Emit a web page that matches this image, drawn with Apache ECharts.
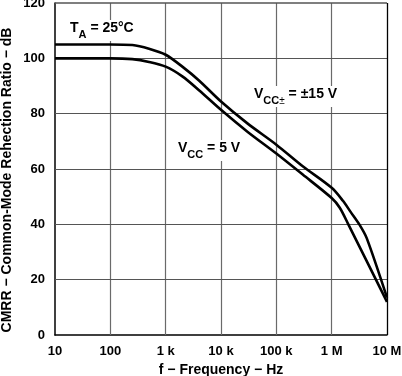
<!DOCTYPE html>
<html>
<head>
<meta charset="utf-8">
<script src="https://cdn.jsdelivr.net/npm/echarts@6/dist/echarts.min.js"></script>
<style>
  html, body { margin: 0; padding: 0; background: #fff; }
  #chart { width: 402px; height: 376px; }
</style>
</head>
<body>
<div id="chart"></div>
<script>
// 数据
var xTickLabels = ['10', '100', '1 k', '10 k', '100 k', '1 M', '10 M'];
var xGrid = [100, 1000, 10000, 100000, 1e6];
var yTicks = [0, 20, 40, 60, 80, 100, 120];

// VCC± = ±15 V
var freq15 = [10, 100, 250, 500, 1000, 2000, 4000, 10000, 30000, 100000, 300000, 1e6, 1.6e6, 2.2e6, 3.2e6, 4.3e6, 1e7];
var cmrr15 = [105, 105, 104.8, 103.5, 101.3, 97, 92, 84.4, 76.5, 68.8, 61, 53.2, 48.5, 44.5, 39.8, 35, 13.5];

// VCC = 5 V
var freq5 = [10, 100, 250, 500, 1000, 2000, 4000, 10000, 30000, 100000, 300000, 1e6, 1.4e6, 2e6, 1e7];
var cmrr5 = [100, 100, 99.7, 98.7, 97, 93.5, 88.5, 81.4, 73.5, 65.6, 58, 49.5, 46, 40, 12];

function pairs(xs, ys) {
  return xs.map(function (x, i) { return [x, ys[i]]; });
}

var FONT = '"Liberation Sans", Arial, sans-serif';

// 标注文字样式（下标）
function richStyle() {
  return {
    a: { fontFamily: FONT, fontWeight: 'bold', fontSize: 14, lineHeight: 19, verticalAlign: 'top', fill: '#000' },
    s: { fontFamily: FONT, fontWeight: 'bold', fontSize: 11, lineHeight: 11, verticalAlign: 'bottom', fill: '#000' },
    p: { fontFamily: FONT, fontWeight: 'normal', fontSize: 10, lineHeight: 10, verticalAlign: 'bottom', fill: '#000' }
  };
}

// 水平网格线 + 边框（主坐标系）
var hLines = [];
yTicks.slice(1, -1).forEach(function (v) {
  hLines.push({ yAxis: v, lineStyle: { color: '#555', width: 1, type: 'solid' } });
});
hLines.push({ yAxis: yTicks[yTicks.length - 1], lineStyle: { color: '#555', width: 1.5, type: 'solid' } });
hLines.push({ xAxis: 1e7, lineStyle: { color: '#000', width: 1.3, type: 'solid' } });

// 竖直网格线：放在隐藏的线性轴上（log10 空间）
var vLines = xGrid.map(function (f) {
  return { xAxis: Math.log10(f), lineStyle: { color: '#6a6a6a', width: 1.2, type: 'solid' } };
});

var myChart = echarts.init(document.getElementById('chart'));
var option = {
  animation: false,
  grid: {
    left: 55,
    right: 15,
    top: 3,
    bottom: 41,
    containLabel: false,
    outerBoundsMode: 'none',
    show: false
  },
  xAxis: [
    {
      type: 'log',
      logBase: 10,
      min: 10,
      max: 1e7,
      name: 'f \u2212 Frequency \u2212 Hz',
      nameLocation: 'middle',
      nameGap: 27,
      nameTextStyle: { fontFamily: FONT, fontWeight: 'bold', fontSize: 14, color: '#000' },
      axisLine: { show: true, onZero: false, lineStyle: { color: '#000', width: 1.5 } },
      axisTick: { show: false },
      axisLabel: {
        margin: 10,
        fontFamily: FONT, fontWeight: 'bold', fontSize: 13, color: '#000',
        formatter: function (v) {
          var i = Math.round(Math.log10(v)) - 1;
          return xTickLabels[i] || '';
        }
      },
      splitLine: { show: false }
    },
    {
      // 隐藏的线性轴，范围 = log10(10) ~ log10(1e7)
      type: 'value',
      show: false,
      min: 1,
      max: 7,
      interval: 1
    }
  ],
  yAxis: {
    type: 'value',
    min: yTicks[0],
    max: yTicks[yTicks.length - 1],
    interval: 20,
    axisLine: { show: true, onZero: false, lineStyle: { color: '#000', width: 1.5 } },
    axisTick: { show: false },
    axisLabel: {
      margin: 10,
      fontFamily: FONT, fontWeight: 'bold', fontSize: 13, color: '#000'
    },
    splitLine: { show: false }
  },
  series: [
    {
      name: 'grid',
      type: 'line',
      xAxisIndex: 1,
      data: [],
      silent: true,
      z: 1,
      markLine: {
        silent: true,
        symbol: 'none',
        label: { show: false },
        emphasis: { disabled: true },
        z: 1,
        data: vLines
      }
    },
    {
      name: 'VCC± = ±15 V',
      type: 'line',
      data: pairs(freq15, cmrr15),
      smooth: 0.3,
      showSymbol: false,
      lineStyle: { color: '#000', width: 2.6 },
      z: 5,
      markLine: {
        silent: true,
        symbol: 'none',
        label: { show: false },
        emphasis: { disabled: true },
        z: 1,
        data: hLines
      }
    },
    {
      name: 'VCC = 5 V',
      type: 'line',
      data: pairs(freq5, cmrr5),
      smooth: 0.3,
      showSymbol: false,
      lineStyle: { color: '#000', width: 2.6 },
      z: 5
    }
  ],
  // 图中标注
  graphic: [
    {
      type: 'text', x: 7, y: 180, rotation: Math.PI / 2, z: 10,
      style: {
        text: 'CMRR \u2212 Common-Mode Rehection Ratio \u2212 dB',
        align: 'center', verticalAlign: 'middle',
        fontFamily: FONT, fontWeight: 'bold', fontSize: 14, fill: '#000'
      }
    },
    {
      type: 'text', left: 68, top: 20, z: 10,
      style: {
        text: '{a|T}{s|A}{a| = 25°C}',
        backgroundColor: '#fff',
        padding: [1, 2],
        rich: richStyle()
      }
    },
    {
      type: 'text', left: 252, top: 86, z: 10,
      style: {
        text: '{a|V}{s|CC}{p|\u00b1}{a| = \u00b115 V}',
        backgroundColor: '#fff',
        padding: [1, 2],
        rich: richStyle()
      }
    },
    {
      type: 'text', left: 176, top: 140, z: 10,
      style: {
        text: '{a|V}{s|CC}{a| = 5 V}',
        backgroundColor: '#fff',
        padding: [1, 2],
        rich: richStyle()
      }
    }
  ]
};
myChart.setOption(option);
</script>
</body>
</html>
